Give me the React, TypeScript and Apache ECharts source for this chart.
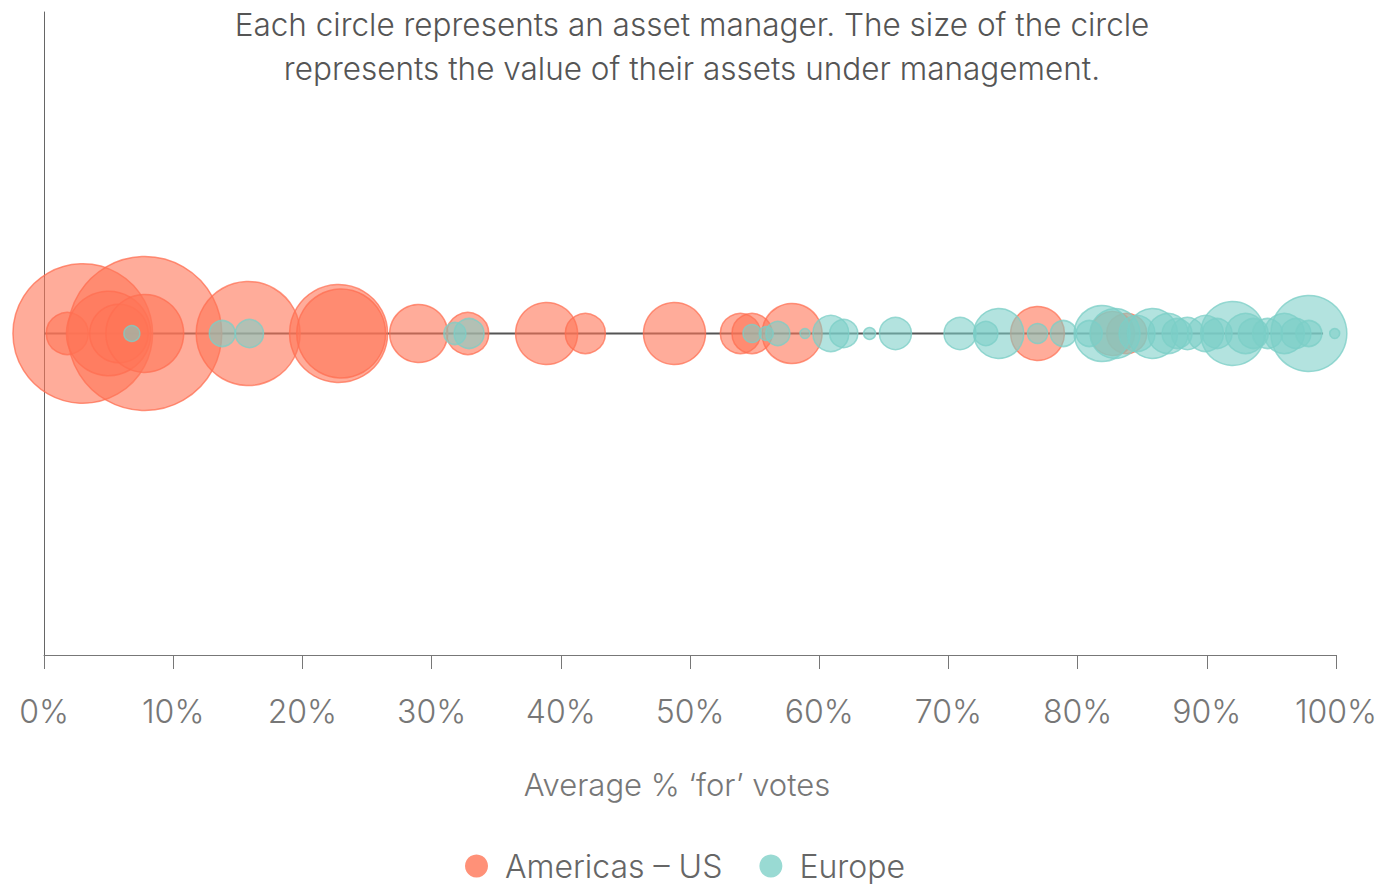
import React, { useEffect, useRef } from "react";
import * as echarts from "echarts";

// Average % 'for' votes and assets under management (arbitrary units, $bn)
const US_VOTES = [3, 7.8, 1.8, 5, 5.8, 7.8, 15.8, 22.8, 23, 29, 32.8, 38.9, 41.9, 48.8, 53.9, 54.8, 57.9, 76.9, 82.7, 83.8];
const US_AUM = [7400, 9000, 670, 2700, 1300, 2300, 4100, 3650, 3000, 1280, 670, 1460, 610, 1460, 610, 610, 1370, 1100, 740, 610];

const EU_VOTES = [6.8, 13.8, 15.9, 31.8, 32.9, 54.8, 55.9, 56.8, 58.9, 60.9, 61.9, 63.9, 65.9, 70.9, 72.9, 73.9, 76.9, 78.9, 80.9, 81.9, 82.9, 84.6, 85.8, 87, 87.7, 88.5, 89.9, 90.8, 92, 93, 93.6, 94.7, 96, 96.9, 97.9, 97.9, 99.9];
const EU_AUM = [97, 256, 300, 184, 340, 123, 74, 219, 38, 490, 300, 55, 390, 390, 219, 950, 152, 256, 256, 1190, 950, 490, 950, 607, 340, 390, 490, 340, 1550, 607, 340, 340, 607, 340, 2190, 256, 38];

const LINE_RANGE = [0, 99];

const TITLE = "Each circle represents an asset manager. The size of the circle\nrepresents the value of their assets under management.";
const X_NAME = "Average % \u2018for\u2019 votes";
const SERIES_NAMES = ["Americas \u2013 US", "Europe"];
const US_COLOR = "#FF7556";
const EU_COLOR = "#7FD1C8";

const FONT = "Inter, Roboto, 'Liberation Sans', sans-serif";
const SIZE_K = 154 / Math.sqrt(9000);

export default function App() {
  const ref = useRef<HTMLDivElement>(null);
  useEffect(() => {
    if (!ref.current) return;
    const chart = echarts.init(ref.current, null, { renderer: "svg" });
    const us = US_VOTES.map((v, i) => [v, 0, US_AUM[i]]);
    const eu = EU_VOTES.map((v, i) => [v, 0, EU_AUM[i]]);
    chart.setOption({
      animation: false,
      textStyle: { fontFamily: FONT },
      title: {
        text: TITLE,
        left: "center",
        top: -3,
        textStyle: { fontSize: 31.5, lineHeight: 44, color: "#555", fontWeight: 300, fontFamily: FONT },
      },
      legend: {
        data: [
          { name: SERIES_NAMES[0], itemStyle: { color: US_COLOR, borderWidth: 0 } },
          { name: SERIES_NAMES[1], itemStyle: { color: EU_COLOR, borderWidth: 0 } },
        ],
        top: 845,
        left: 460,
        icon: "circle",
        itemWidth: 23,
        itemHeight: 23,
        itemGap: 37,
        textStyle: { fontSize: 32, lineHeight: 30, color: "#666", fontWeight: 300, fontFamily: FONT, padding: [0, 0, 0, 12] },
      },
      grid: { left: 44, right: 48, top: 12, bottom: 229, containLabel: false },
      xAxis: {
        type: "value",
        min: 0,
        max: 100,
        interval: 10,
        axisLine: { show: true, onZero: false, lineStyle: { color: "#777", width: 1 } },
        axisTick: { show: true, length: 14, lineStyle: { color: "#777" } },
        axisLabel: {
          formatter: "{value}%",
          fontSize: 32,
          color: "#777",
          fontWeight: 300,
          fontFamily: FONT,
          margin: 40,
        },
        splitLine: { show: false },
        name: X_NAME,
        nameLocation: "middle",
        nameGap: 114,
        nameTextStyle: { fontSize: 31, color: "#777", fontWeight: 300, fontFamily: FONT, padding: [0, 26, 0, 0] },
      },
      yAxis: {
        type: "value",
        min: -1,
        max: 1,
        axisLine: { show: true, onZero: false, lineStyle: { color: "#666", width: 1 } },
        axisTick: { show: false },
        axisLabel: { show: false },
        splitLine: { show: false },
      },
      series: [
        {
          type: "line",
          data: LINE_RANGE.map((x) => [x, 0]),
          symbol: "none",
          silent: true,
          z: 1,
          lineStyle: { color: "#555", width: 2 },
        },
        {
          name: SERIES_NAMES[0],
          type: "scatter",
          z: 2,
          data: us,
          symbolSize: (v: number[]) => Math.sqrt(v[2]) * SIZE_K,
          itemStyle: {
            color: "rgba(255,117,86,0.75)",
            borderColor: "rgba(255,110,80,0.9)",
            borderWidth: 1.5,
          },
        },
        {
          name: SERIES_NAMES[1],
          type: "scatter",
          z: 3,
          data: eu,
          symbolSize: (v: number[]) => Math.sqrt(v[2]) * SIZE_K,
          itemStyle: {
            color: "rgba(124,207,199,0.72)",
            borderColor: "rgba(124,207,199,0.95)",
            borderWidth: 1.5,
          },
        },
      ],
    });
    return () => chart.dispose();
  }, []);
  return <div ref={ref} style={{ width: 1384, height: 884, position: "absolute", left: 0, top: 0, background: "#fff" }} />;
}
